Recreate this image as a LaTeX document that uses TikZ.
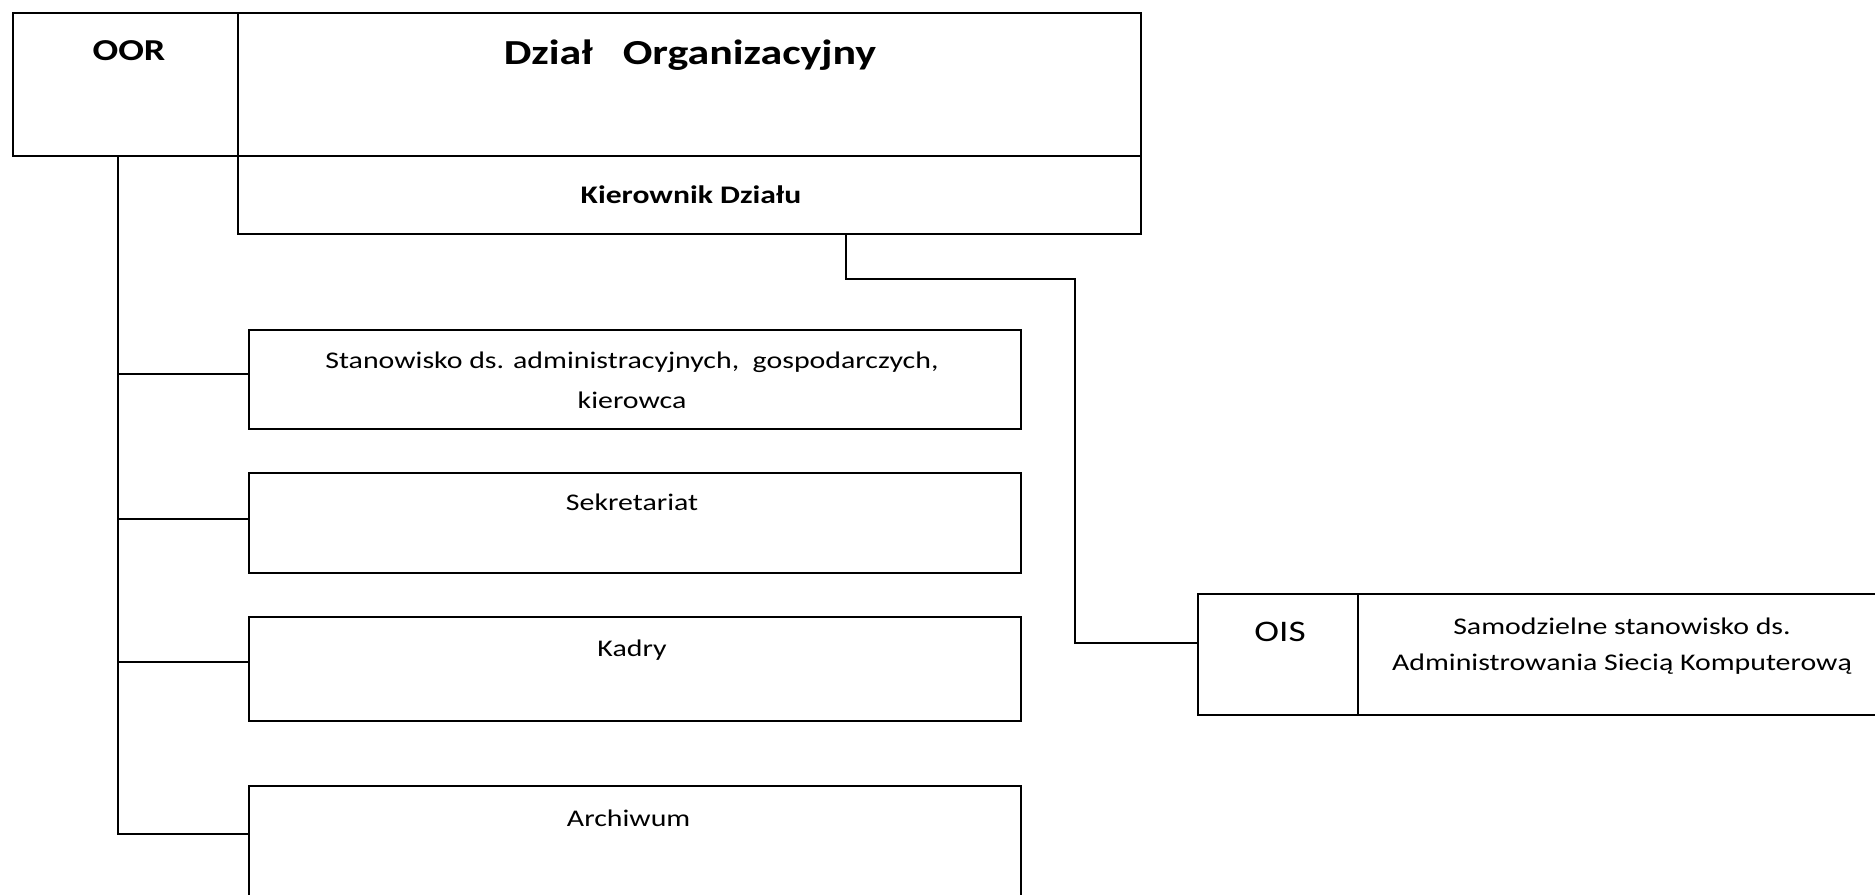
\documentclass[tikz,border=0pt]{standalone}
\usepackage{fontspec}
\setmainfont{Carlito}[FakeStretch=1.25]
\usetikzlibrary{positioning}
\begin{document}
\begin{tikzpicture}[x=0.02cm, y=-0.02cm,
		box/.style={draw, line width=1.2pt, inner sep=0pt, anchor=north west},
		conn/.style={draw, line width=0.8pt},
		txt/.style={font=\fontsize{13.6}{22.7}\selectfont, align=center}]

		\clip (0,0) rectangle (1875,895);
		\fill[white] (0,0) rectangle (1875,895);

		% naglowek dzialu
		\node[box, minimum width=4.5cm, minimum height=2.86cm] (oor) at (12,12) {};
		\node[box, minimum width=18.06cm, minimum height=2.86cm] (dzial) at (237,12) {};
		\node[box, minimum width=18.06cm, minimum height=1.56cm] (kier) at (237,155) {};

		\node[font=\bfseries\fontsize{17.3}{20}\selectfont] (oor-t) at (129,51) {OOR};
		\node[font=\bfseries\fontsize{20}{24}\selectfont] (dzial-t) at (690,55) {Dział\ \ \ Organizacyjny};
		\node[font=\bfseries\fontsize{14.4}{17}\selectfont] (kier-t) at (691,195) {Kierownik Działu};

		% stanowiska pod OOR
		\foreach \name/\ytop/\hgt/\by/\ty/\lbl in {
				stan/329/1.98/374/380/{Stanowisko ds. administracyjnych,\ \ gospodarczych,\\kierowca},
				sekr/472/2.00/519/502/Sekretariat,
				kadry/616/2.08/662/650/Kadry,
				arch/785/2.30/834/818/Archiwum
			} {
				\node[box, minimum width=15.44cm, minimum height=\hgt cm] (\name) at (248,\ytop) {};
				\node[txt] (\name-t) at (632,\ty) {\lbl};
				\draw[conn] ([xshift=-0.15cm]oor.south) |- (\name.west |- 0,\by);
			}

		% OIS
		\node[box, minimum width=3.2cm, minimum height=2.42cm] (ois) at (1197,593) {};
		\node[box, minimum width=11cm, minimum height=2.42cm] (samo) at (1357,593) {};
		\node[font=\fontsize{17}{20}\selectfont] (ois-t) at (1280,632) {OIS};
		\node[font=\fontsize{13.6}{20.4}\selectfont, align=center] (samo-t) at (1622,646)
			{Samodzielne stanowisko ds.\\Administrowania Siecią Komputerową};

		\coordinate (bend) at (1075,279);
		\draw[conn] ([xshift=3.13cm]kier.south) |- (bend) |- ([yshift=0.23cm]ois.west);
	\end{tikzpicture}
\end{document}
